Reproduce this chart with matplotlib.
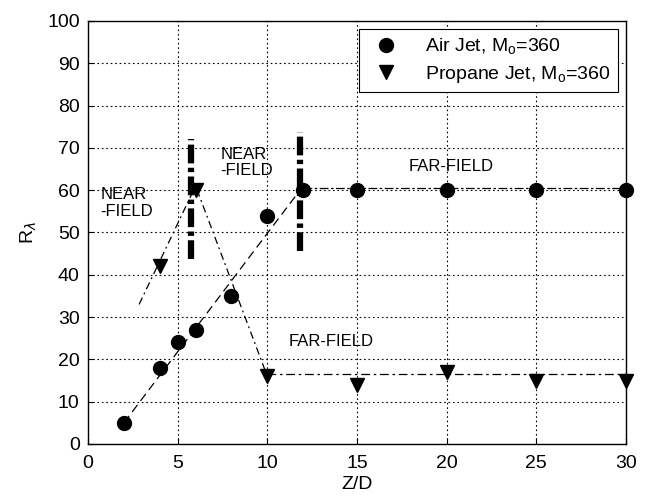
import matplotlib
matplotlib.use("Agg")
import matplotlib.pyplot as plt

plt.rcParams['font.family'] = ['Liberation Sans', 'DejaVu Sans']

air_x = [2, 4, 5, 6, 8, 10, 12, 15, 20, 25, 30]
air_y = [5, 18, 24, 27, 35, 54, 60, 60, 60, 60, 60]
prop_x = [4, 6, 10, 15, 20, 25, 30]
prop_y = [42, 60, 16, 14, 17, 15, 15]

# guide lines
air_fit_x = [2, 12]
air_fit_y = [5, 61]
air_far_x = [12, 30]
air_far_y = [60.5, 60.5]
prop_near_x = [2.85, 6, 10]
prop_near_y = [33, 61, 16]
prop_far_x = [10, 30]
prop_far_y = [16.5, 16.5]
bound1_x = [5.73, 5.73]
bound1_y = [43.7, 72]
bound2_x = [11.82, 11.82]
bound2_y = [45.7, 73.8]

fig = plt.figure(figsize=(6.48, 5.01), dpi=100)
ax = fig.add_axes([88/648, 1-444/501, (626-88)/648, (444-21)/501])

ax.plot(air_fit_x, air_fit_y, color='black', lw=0.9, dashes=(7, 4))
ax.plot(air_far_x, air_far_y, color='black', lw=0.9, dashes=(7, 2, 2, 2))
ax.plot(prop_near_x, prop_near_y, color='black', lw=0.9, dashes=(6, 3, 1.5, 3))
ax.plot(prop_far_x, prop_far_y, color='black', lw=0.9, dashes=(7, 3, 2, 3))
ax.plot(bound1_x, bound1_y, color='black', lw=4.5, dashes=(3.0, 0.7, 0.7, 0.7))
ax.plot(bound2_x, bound2_y, color='black', lw=4.5, dashes=(3.0, 0.7, 0.7, 0.7))

ax.plot(air_x, air_y, 'o', color='black', ms=10, clip_on=False,
        label='Air Jet, M$_\\mathregular{o}$=360')
ax.plot(prop_x, prop_y, 'v', color='black', ms=10, clip_on=False,
        label='Propane Jet, M$_\\mathregular{o}$=360')

ax.text(0.7, 54, 'NEAR\n-FIELD', fontsize=12, linespacing=1.1)
ax.text(7.4, 63.5, 'NEAR\n-FIELD', fontsize=12, linespacing=1.1)
ax.text(17.9, 65.5, 'FAR-FIELD', fontsize=12, va='center')
ax.text(11.2, 24.3, 'FAR-FIELD', fontsize=12, va='center')

ax.set_xlim(0, 30)
ax.set_ylim(0, 100)
ax.set_xticks(range(0, 31, 5))
ax.set_yticks(range(0, 101, 10))
ax.grid(True, color='black', linestyle=(0, (1.5, 2.5)), lw=0.8)
ax.tick_params(labelsize=14, direction='in', length=4)
ax.tick_params(axis='x', pad=8)
ax.tick_params(axis='y', pad=6)
for s in ax.spines.values():
    s.set_linewidth(1)
ax.set_xlabel('Z/D', fontsize=14, labelpad=3)
ax.set_ylabel('R$_\\lambda$', fontsize=14, labelpad=6)

leg = ax.legend(loc='upper right', fontsize=14, frameon=True, fancybox=False,
                edgecolor='black', framealpha=1, borderaxespad=0.4,
                handlelength=2.0, handletextpad=1.0, labelspacing=0.35,
                borderpad=0.4)
leg.get_frame().set_linewidth(0.8)

fig.savefig('out.png', dpi=100)
